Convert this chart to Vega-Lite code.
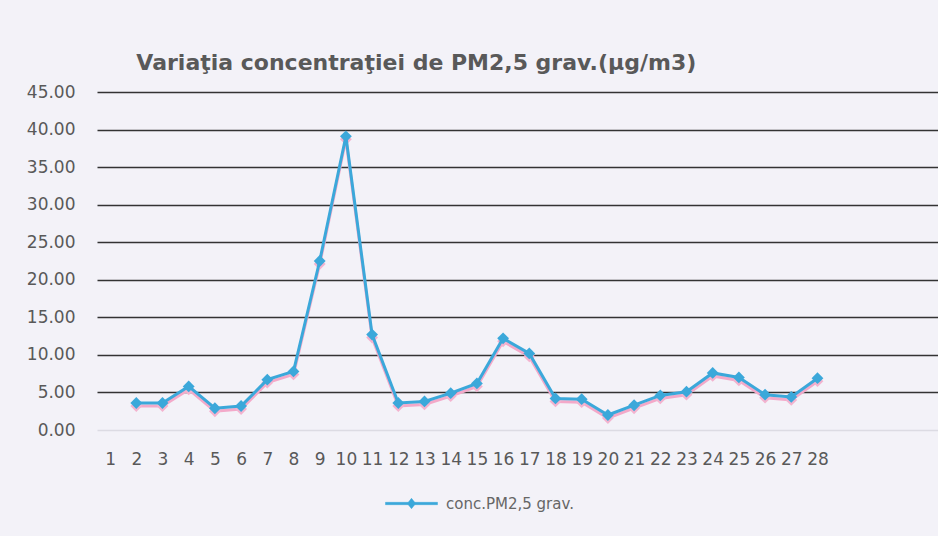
{
  "$schema": "https://vega.github.io/schema/vega-lite/v6.json",
  "width": 841,
  "height": 338,
  "autosize": "none",
  "padding": {"left": 97, "top": 92, "right": 0, "bottom": 106},
  "background": "#f3f2f8",
  "config": {"view": {"stroke": null}, "font": "DejaVu Sans"},
  "title": {
    "text": "Variaţia concentraţiei de PM2,5 grav.(µg/m3)",
    "anchor": "start",
    "dx": 110,
    "offset": 8,
    "font": "DejaVu Sans",
    "fontSize": 22,
    "fontWeight": "bold",
    "color": "#595959"
  },
  "data": {
    "values": [
      {"zi": 2, "conc": 3.6},
      {"zi": 3, "conc": 3.6},
      {"zi": 4, "conc": 5.8},
      {"zi": 5, "conc": 2.9},
      {"zi": 6, "conc": 3.2},
      {"zi": 7, "conc": 6.7},
      {"zi": 8, "conc": 7.8},
      {"zi": 9, "conc": 22.5},
      {"zi": 10, "conc": 39.1},
      {"zi": 11, "conc": 12.7},
      {"zi": 12, "conc": 3.6},
      {"zi": 13, "conc": 3.8},
      {"zi": 14, "conc": 4.9},
      {"zi": 15, "conc": 6.2},
      {"zi": 16, "conc": 12.2},
      {"zi": 17, "conc": 10.2},
      {"zi": 18, "conc": 4.2},
      {"zi": 19, "conc": 4.1},
      {"zi": 20, "conc": 2.0},
      {"zi": 21, "conc": 3.3},
      {"zi": 22, "conc": 4.6},
      {"zi": 23, "conc": 5.1},
      {"zi": 24, "conc": 7.6},
      {"zi": 25, "conc": 7.0},
      {"zi": 26, "conc": 4.7},
      {"zi": 27, "conc": 4.4},
      {"zi": 28, "conc": 6.9}
    ]
  },
  "encoding": {
    "x": {
      "field": "zi",
      "type": "quantitative",
      "scale": {"domain": [0.5, 32.6], "nice": false, "zero": false},
      "axis": {
        "values": [1,2,3,4,5,6,7,8,9,10,11,12,13,14,15,16,17,18,19,20,21,22,23,24,25,26,27,28],
        "format": "d",
        "grid": false,
        "domain": false,
        "ticks": false,
        "title": null,
        "labelPadding": 21,
        "labelFontSize": 17,
        "labelColor": "#595959",
        "labelFlush": false,
        "labelOverlap": false
      }
    },
    "y": {
      "field": "conc",
      "type": "quantitative",
      "scale": {"domain": [0, 45], "nice": false},
      "axis": {
        "values": [0,5,10,15,20,25,30,35,40,45],
        "format": ".2f",
        "grid": true,
        "gridColor": {"condition": {"test": "datum.value === 0", "value": "#dcdbe3"}, "value": "#333333"},
        "gridWidth": 1.3,
        "gridOpacity": 1,
        "domain": false,
        "ticks": false,
        "title": null,
        "labelPadding": 22,
        "labelFontSize": 17,
        "labelColor": "#595959"
      }
    }
  },
  "layer": [
    {
      "mark": {
        "type": "line",
        "color": "#f3a9c9",
        "strokeWidth": 3,
        "yOffset": 3,
        "point": {"filled": true, "shape": "diamond", "size": 140, "color": "#f3b3cf", "yOffset": 3}
      }
    },
    {
      "mark": {
        "type": "line",
        "strokeWidth": 3,
        "point": {"filled": true, "shape": "diamond", "size": 140, "color": "#3a9fd2"}
      },
      "encoding": {
        "color": {
          "datum": "conc.PM2,5 grav.",
          "scale": {"range": ["#3ba8da"]},
          "legend": {
            "title": null,
            "orient": "none",
            "legendX": 288,
            "legendY": 385,
            "symbolType": "M-1,-0.045H1V0.045H-1Z M0,-0.2L0.16,0L0,0.2L-0.16,0Z",
            "symbolSize": 2704,
            "symbolFillColor": "#3ba8da",
            "symbolStrokeColor": "#3ba8da",
            "symbolStrokeWidth": 0.5,
            "labelFont": "DejaVu Sans",
            "labelFontSize": 15,
            "labelColor": "#666666",
            "labelOffset": 8
          }
        }
      }
    }
  ]
}
